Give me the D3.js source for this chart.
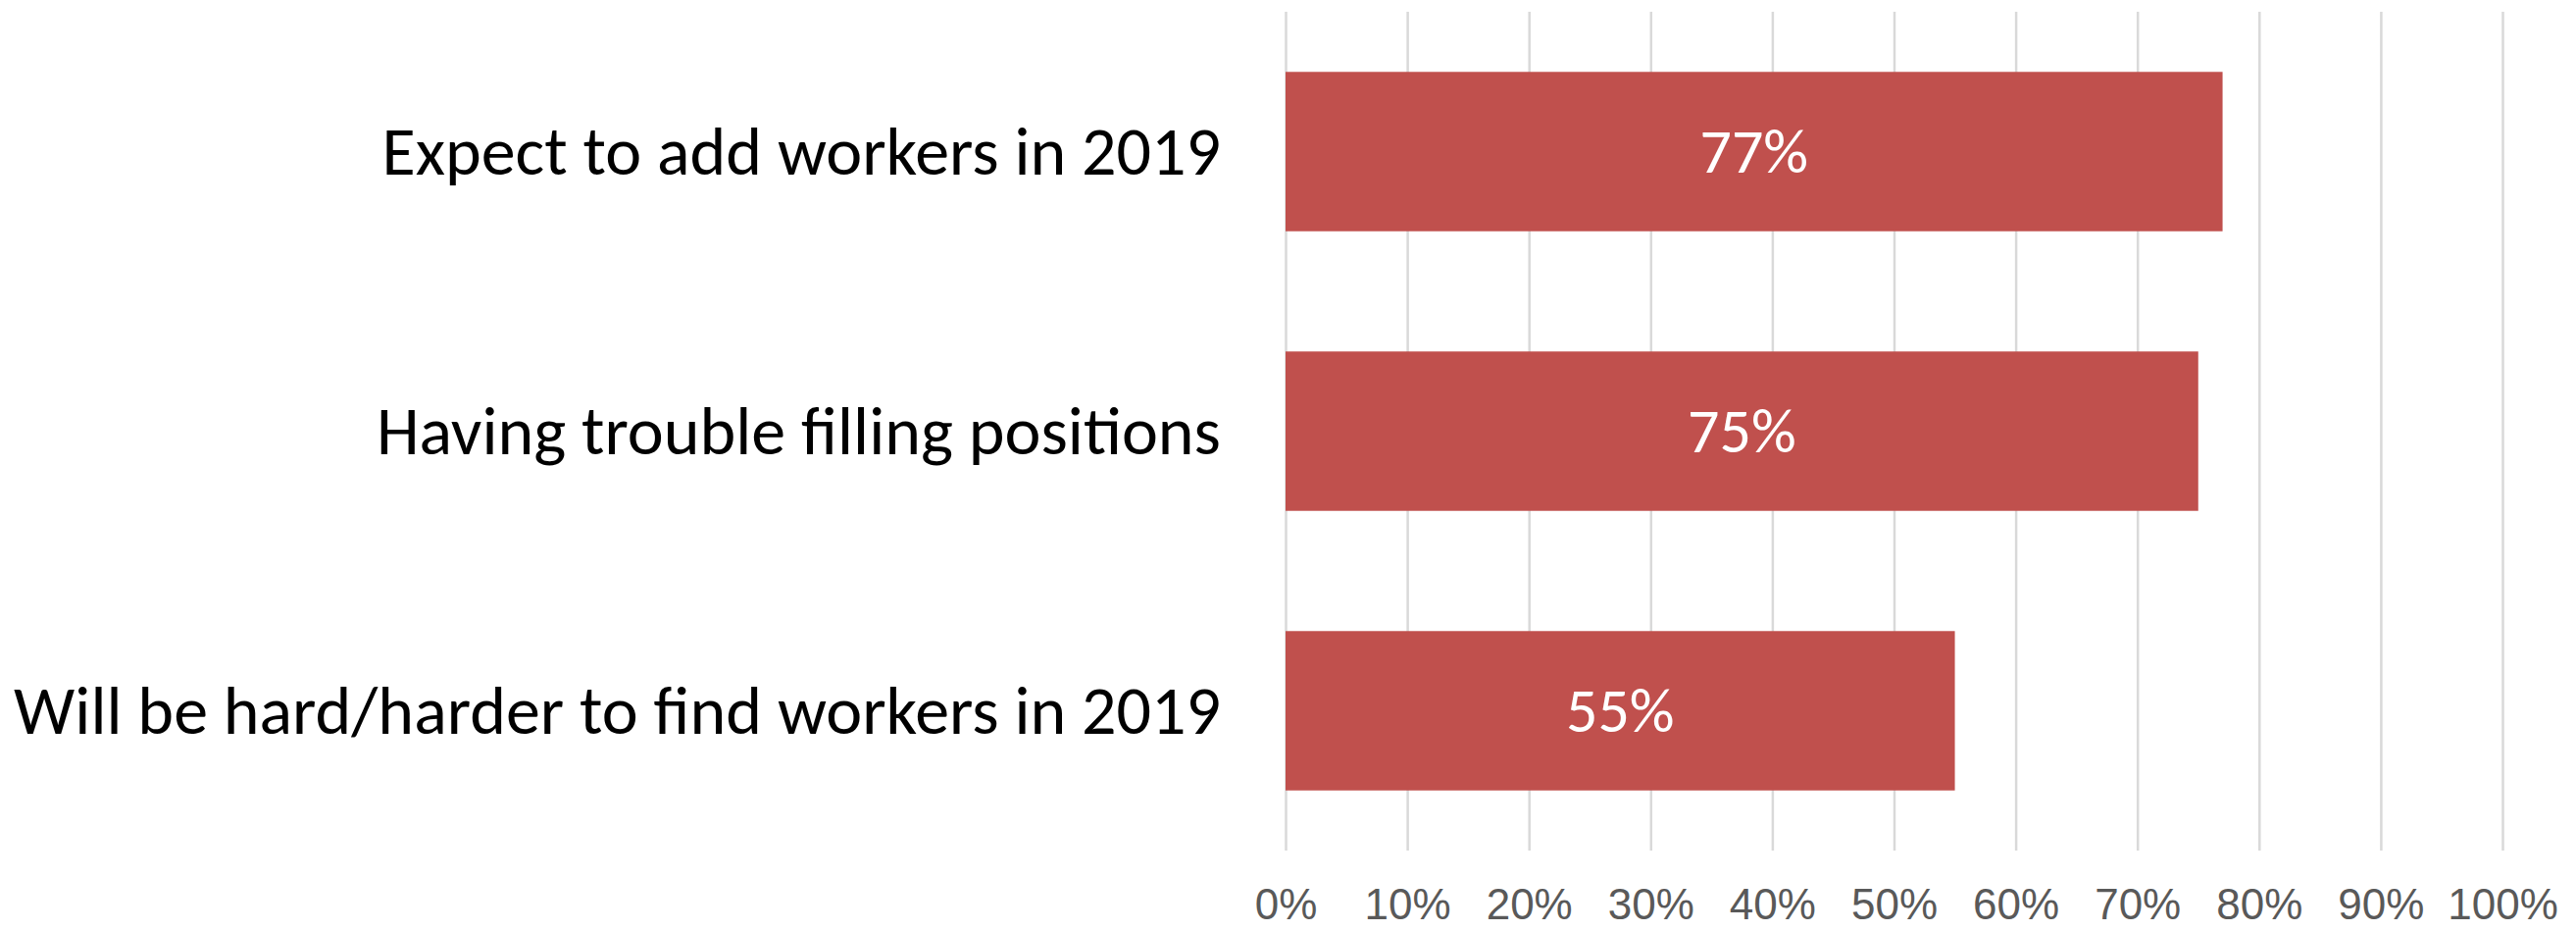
<!DOCTYPE html>
<html>
<head>
<meta charset="utf-8">
<script src="https://cdn.jsdelivr.net/npm/d3@7"></script>
<style>
  body { margin: 0; background: #fff; }
  svg { display: block; font-family: Calibri, Carlito, "Open Sans", sans-serif; }
  .tick line { stroke: #d9d9d9; stroke-width: 2.5; }
  .tick text { fill: #595959; }
</style>
</head>
<body>
<div id="chart"></div>
<script>
// Chart data
var categories = [
  "Expect to add workers in 2019",
  "Having trouble filling positions",
  "Will be hard/harder to find workers in 2019"
];
var values = [0.77, 0.75, 0.55];
var tickValues = [0, 0.1, 0.2, 0.3, 0.4, 0.5, 0.6, 0.7, 0.8, 0.9, 1.0];

var svgWidth = 2627;
var svgHeight = 949;
var margin = { top: 12, right: 75, bottom: 82, left: 1311 };

var width = svgWidth - margin.left - margin.right;
var height = svgHeight - margin.top - margin.bottom;

var svg = d3.select("#chart")
  .append("svg")
  .attr("width", svgWidth)
  .attr("height", svgHeight);

var chartGroup = svg.append("g")
  .attr("transform", `translate(${margin.left}, ${margin.top})`);

// Scales
var xScale = d3.scaleLinear()
  .domain([0, 1])
  .range([0, width]);

var yScale = d3.scaleBand()
  .domain(categories)
  .range([0, height])
  .paddingInner(0.43)
  .paddingOuter(0.215);

// Gridlines + tick labels
var bottomAxis = d3.axisBottom(xScale)
  .tickValues(tickValues)
  .tickFormat(d3.format(".0%"))
  .tickSize(-height)
  .tickPadding(39);

var xAxis = chartGroup.append("g")
  .attr("transform", `translate(0, ${height})`)
  .call(bottomAxis);
xAxis.select(".domain").remove();
xAxis.selectAll("text")
  .attr("font-size", 44)
  .attr("font-family", null);

// Bars
var data = categories.map(function(c, i) {
  return { category: c, value: values[i] };
});

chartGroup.selectAll(".bar")
  .data(data)
  .enter()
  .append("rect")
  .attr("class", "bar")
  .attr("x", xScale(0))
  .attr("y", function(d) { return yScale(d.category); })
  .attr("width", function(d) { return xScale(d.value) - xScale(0); })
  .attr("height", yScale.bandwidth())
  .attr("fill", "#c0504d");

// Value labels
chartGroup.selectAll(".val")
  .data(data)
  .enter()
  .append("text")
  .attr("class", "val")
  .attr("x", function(d) { return xScale(d.value / 2); })
  .attr("y", function(d) { return yScale(d.category) + yScale.bandwidth() / 2; })
  .attr("dy", "0.34em")
  .attr("text-anchor", "middle")
  .attr("fill", "#fff")
  .attr("font-size", 64)
  .text(function(d) { return Math.round(d.value * 100) + "%"; });

// Category labels
chartGroup.selectAll(".cat")
  .data(categories)
  .enter()
  .append("text")
  .attr("class", "cat")
  .attr("x", -66)
  .attr("y", function(d) { return yScale(d) + yScale.bandwidth() / 2; })
  .attr("dy", "0.34em")
  .attr("text-anchor", "end")
  .attr("fill", "#000")
  .attr("font-size", 70)
  .text(function(d) { return d; });
</script>
</body>
</html>
